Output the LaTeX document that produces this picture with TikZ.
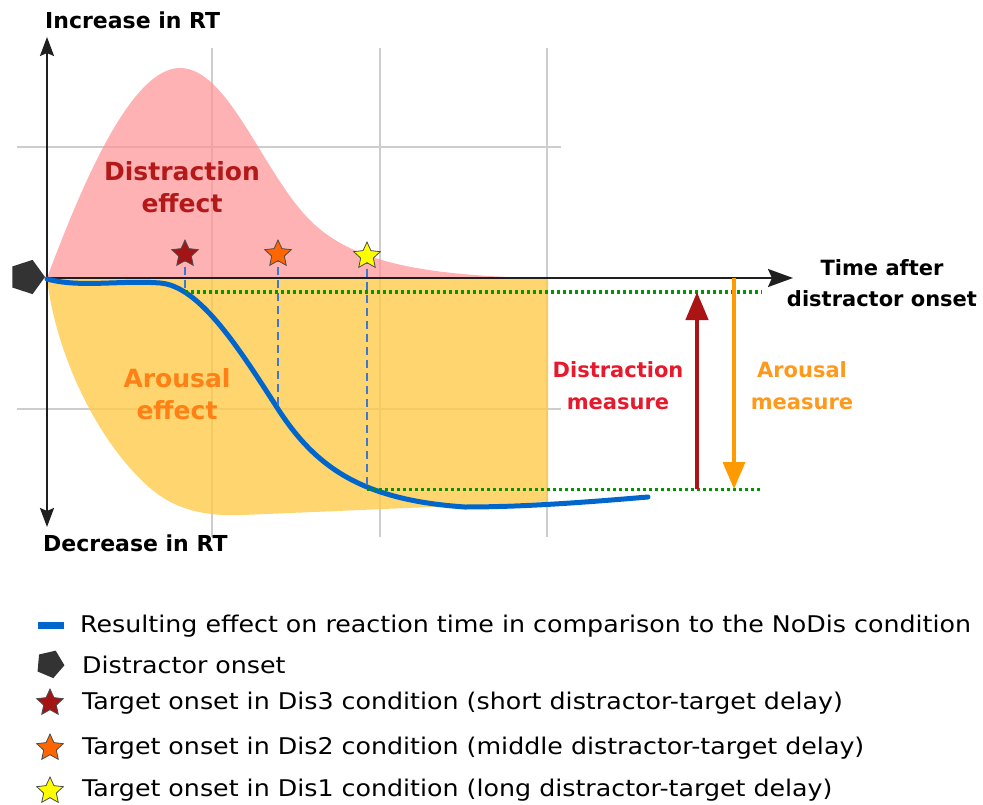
\documentclass[tikz,border=0pt]{standalone}
\usepackage{fontspec}
\setmainfont{DejaVu Sans}
\newfontfamily\legfont[FakeStretch=1.1]{DejaVu Sans}
\usetikzlibrary{arrows.meta,shapes.geometric}
\definecolor{gridgray}{RGB}{205,205,205}
\definecolor{pinkfill}{RGB}{255,145,148}
\definecolor{orangefill}{RGB}{254,202,74}
\definecolor{curveblue}{RGB}{0,102,204}
\definecolor{dashblue}{RGB}{60,120,210}
\definecolor{dotgreen}{RGB}{0,150,0}
\definecolor{darkred}{RGB}{170,20,20}
\definecolor{effred}{RGB}{180,25,25}
\definecolor{measred}{RGB}{230,25,45}
\definecolor{efforange}{RGB}{255,128,20}
\definecolor{measorange}{RGB}{255,153,28}
\definecolor{arrorange}{RGB}{255,155,0}
\definecolor{starred}{RGB}{163,21,21}
\definecolor{starorange}{RGB}{255,102,0}
\definecolor{staryellow}{RGB}{255,255,0}
\definecolor{pentgray}{RGB}{51,51,51}
\begin{document}
\begin{tikzpicture}[x=1pt,y=-1pt,
  gridline/.style={draw=gridgray,line width=2pt},
  axisline/.style={draw=black!88,line width=2pt},
  lbl/.style={inner sep=0pt,font=\bfseries\fontsize{21}{31}\selectfont},
  axlbl/.style={inner sep=0pt,anchor=west,font=\bfseries\fontsize{22}{26}\selectfont},
  efflbl/.style={inner sep=0pt,align=center,font=\bfseries\fontsize{25}{32}\selectfont},
  measlbl/.style={inner sep=0pt,align=center,font=\bfseries\fontsize{21}{32}\selectfont},
  legtext/.style={inner sep=0pt,anchor=west,font=\legfont\fontsize{23}{27}\selectfont},
  starmark/.style={star,star points=5,star point ratio=2.1,minimum size=28pt,inner sep=0pt,draw=black!70,line width=0.8pt},
  pentmark/.style={regular polygon,regular polygon sides=5,minimum size=36pt,inner sep=0pt,fill=pentgray},
  bluedash/.style={draw=dashblue,line width=1.8pt,dash pattern=on 8pt off 5pt},
  greendot/.style={draw=dotgreen,line width=3pt,dash pattern=on 3pt off 3pt},
]
\useasboundingbox (0,0) rectangle (983,805);

% grid
\foreach \gx in {212,380,547} \draw[gridline] (\gx,48) -- (\gx,537);
\foreach \gy in {147,409} \draw[gridline] (17,\gy) -- (561,\gy);

% distraction effect area
\fill[pinkfill,opacity=0.7] (47,278) .. controls (80,190) and (130,68) .. (180,68)
  .. controls (230,68) and (265,180) .. (315,225)
  .. controls (355,261) and (420,276) .. (545,278) -- cycle;

% arousal effect area
\fill[orangefill,opacity=0.8] (47,278) .. controls (55,350) and (95,440) .. (150,488)
  .. controls (180,514) and (215,516) .. (243,515) -- (548,502) -- (548,278) -- cycle;

% axes
\coordinate (o) at (47,278);
\coordinate (ytop) at (47,37);
\coordinate (ybot) at (47,527);
\coordinate (xend) at (793,278);
\draw[axisline,-{Stealth[length=19pt,width=14pt,inset=3pt]}] (o) -- (ytop);
\draw[axisline,-{Stealth[length=19pt,width=14pt,inset=3pt]}] (o) -- (ybot);
\draw[axisline,-{Stealth[length=25pt,width=18pt,inset=4pt]}] (o) -- (xend);

% distractor onset
\node[pentmark,shape border rotate=-90] (pent) at (27,277) {};

% resulting curve
\draw[curveblue,line width=5pt,line cap=round] (47,279) .. controls (80,288) and (120,280) .. (160,283)
  .. controls (200,286) and (240,350) .. (278,409)
  .. controls (315,466) and (360,500) .. (465,507)
  .. controls (530,507) and (600,501) .. (648,497);

% stars and projections
\coordinate (g1) at (185,292);
\coordinate (g2) at (278,409);
\coordinate (g3) at (367,489);
\coordinate (s1c) at (185,254);
\coordinate (s2c) at (278,254);
\coordinate (s3c) at (367,256);
\draw[bluedash] (s1c) -- (g1);
\draw[bluedash] (s2c) -- (g2);
\draw[bluedash] (s3c) -- (g3);

% green reference lines
\coordinate (gr1) at (762,292);
\coordinate (gr2) at (762,489);
\draw[greendot] (g1) -- (gr1);
\draw[greendot] (g3) -- (gr2);

\node[starmark,fill=starred] (s1) at (s1c) {};
\node[starmark,fill=starorange] (s2) at (s2c) {};
\node[starmark,fill=staryellow] (s3) at (s3c) {};

% measures
\coordinate (ra0) at (697,489);
\coordinate (ra1) at (697,292);
\coordinate (oa0) at (734,278);
\coordinate (oa1) at (734,489);
\draw[darkred,line width=4.5pt,-{Triangle[length=28pt,width=22pt]}] (ra0) -- (ra1);
\draw[arrorange,line width=3.5pt,-{Triangle[length=27pt,width=22pt]}] (oa0) -- (oa1);

% labels
\node[axlbl] (inc) at (45,20) {Increase in RT};
\node[axlbl] (dec) at (43,543) {Decrease in RT};
\node[lbl,align=center] (time) at (882,283) {Time after\\distractor onset};
\node[efflbl,text=effred] (deff) at (182,187) {Distraction\\effect};
\node[efflbl,text=efforange] (aeff) at (177,394) {Arousal\\effect};
\node[measlbl,text=measred] (dmeas) at (618,386) {Distraction\\measure};
\node[measlbl,text=measorange] (ameas) at (802,386) {Arousal\\measure};

% legend
\node[fill=curveblue,minimum width=26pt,minimum height=7pt,inner sep=0pt] (lg1) at (51,625) {};
\node[pentmark,minimum size=29pt,shape border rotate=-95] (lg2) at (50,664) {};
\node[starmark,fill=starred] (lg3) at (50,703) {};
\node[starmark,fill=starorange] (lg4) at (50,748) {};
\node[starmark,fill=staryellow] (lg5) at (50,791) {};
\node[legtext] (lt1) at (80,626) {Resulting effect on reaction time in comparison to the NoDis condition};
\node[legtext] (lt2) at (82,665) {Distractor onset};
\node[legtext] (lt3) at (82,703) {Target onset in Dis3 condition (short distractor-target delay)};
\node[legtext] (lt4) at (82,748) {Target onset in Dis2 condition (middle distractor-target delay)};
\node[legtext] (lt5) at (82,790) {Target onset in Dis1 condition (long distractor-target delay)};
\end{tikzpicture}
\end{document}
